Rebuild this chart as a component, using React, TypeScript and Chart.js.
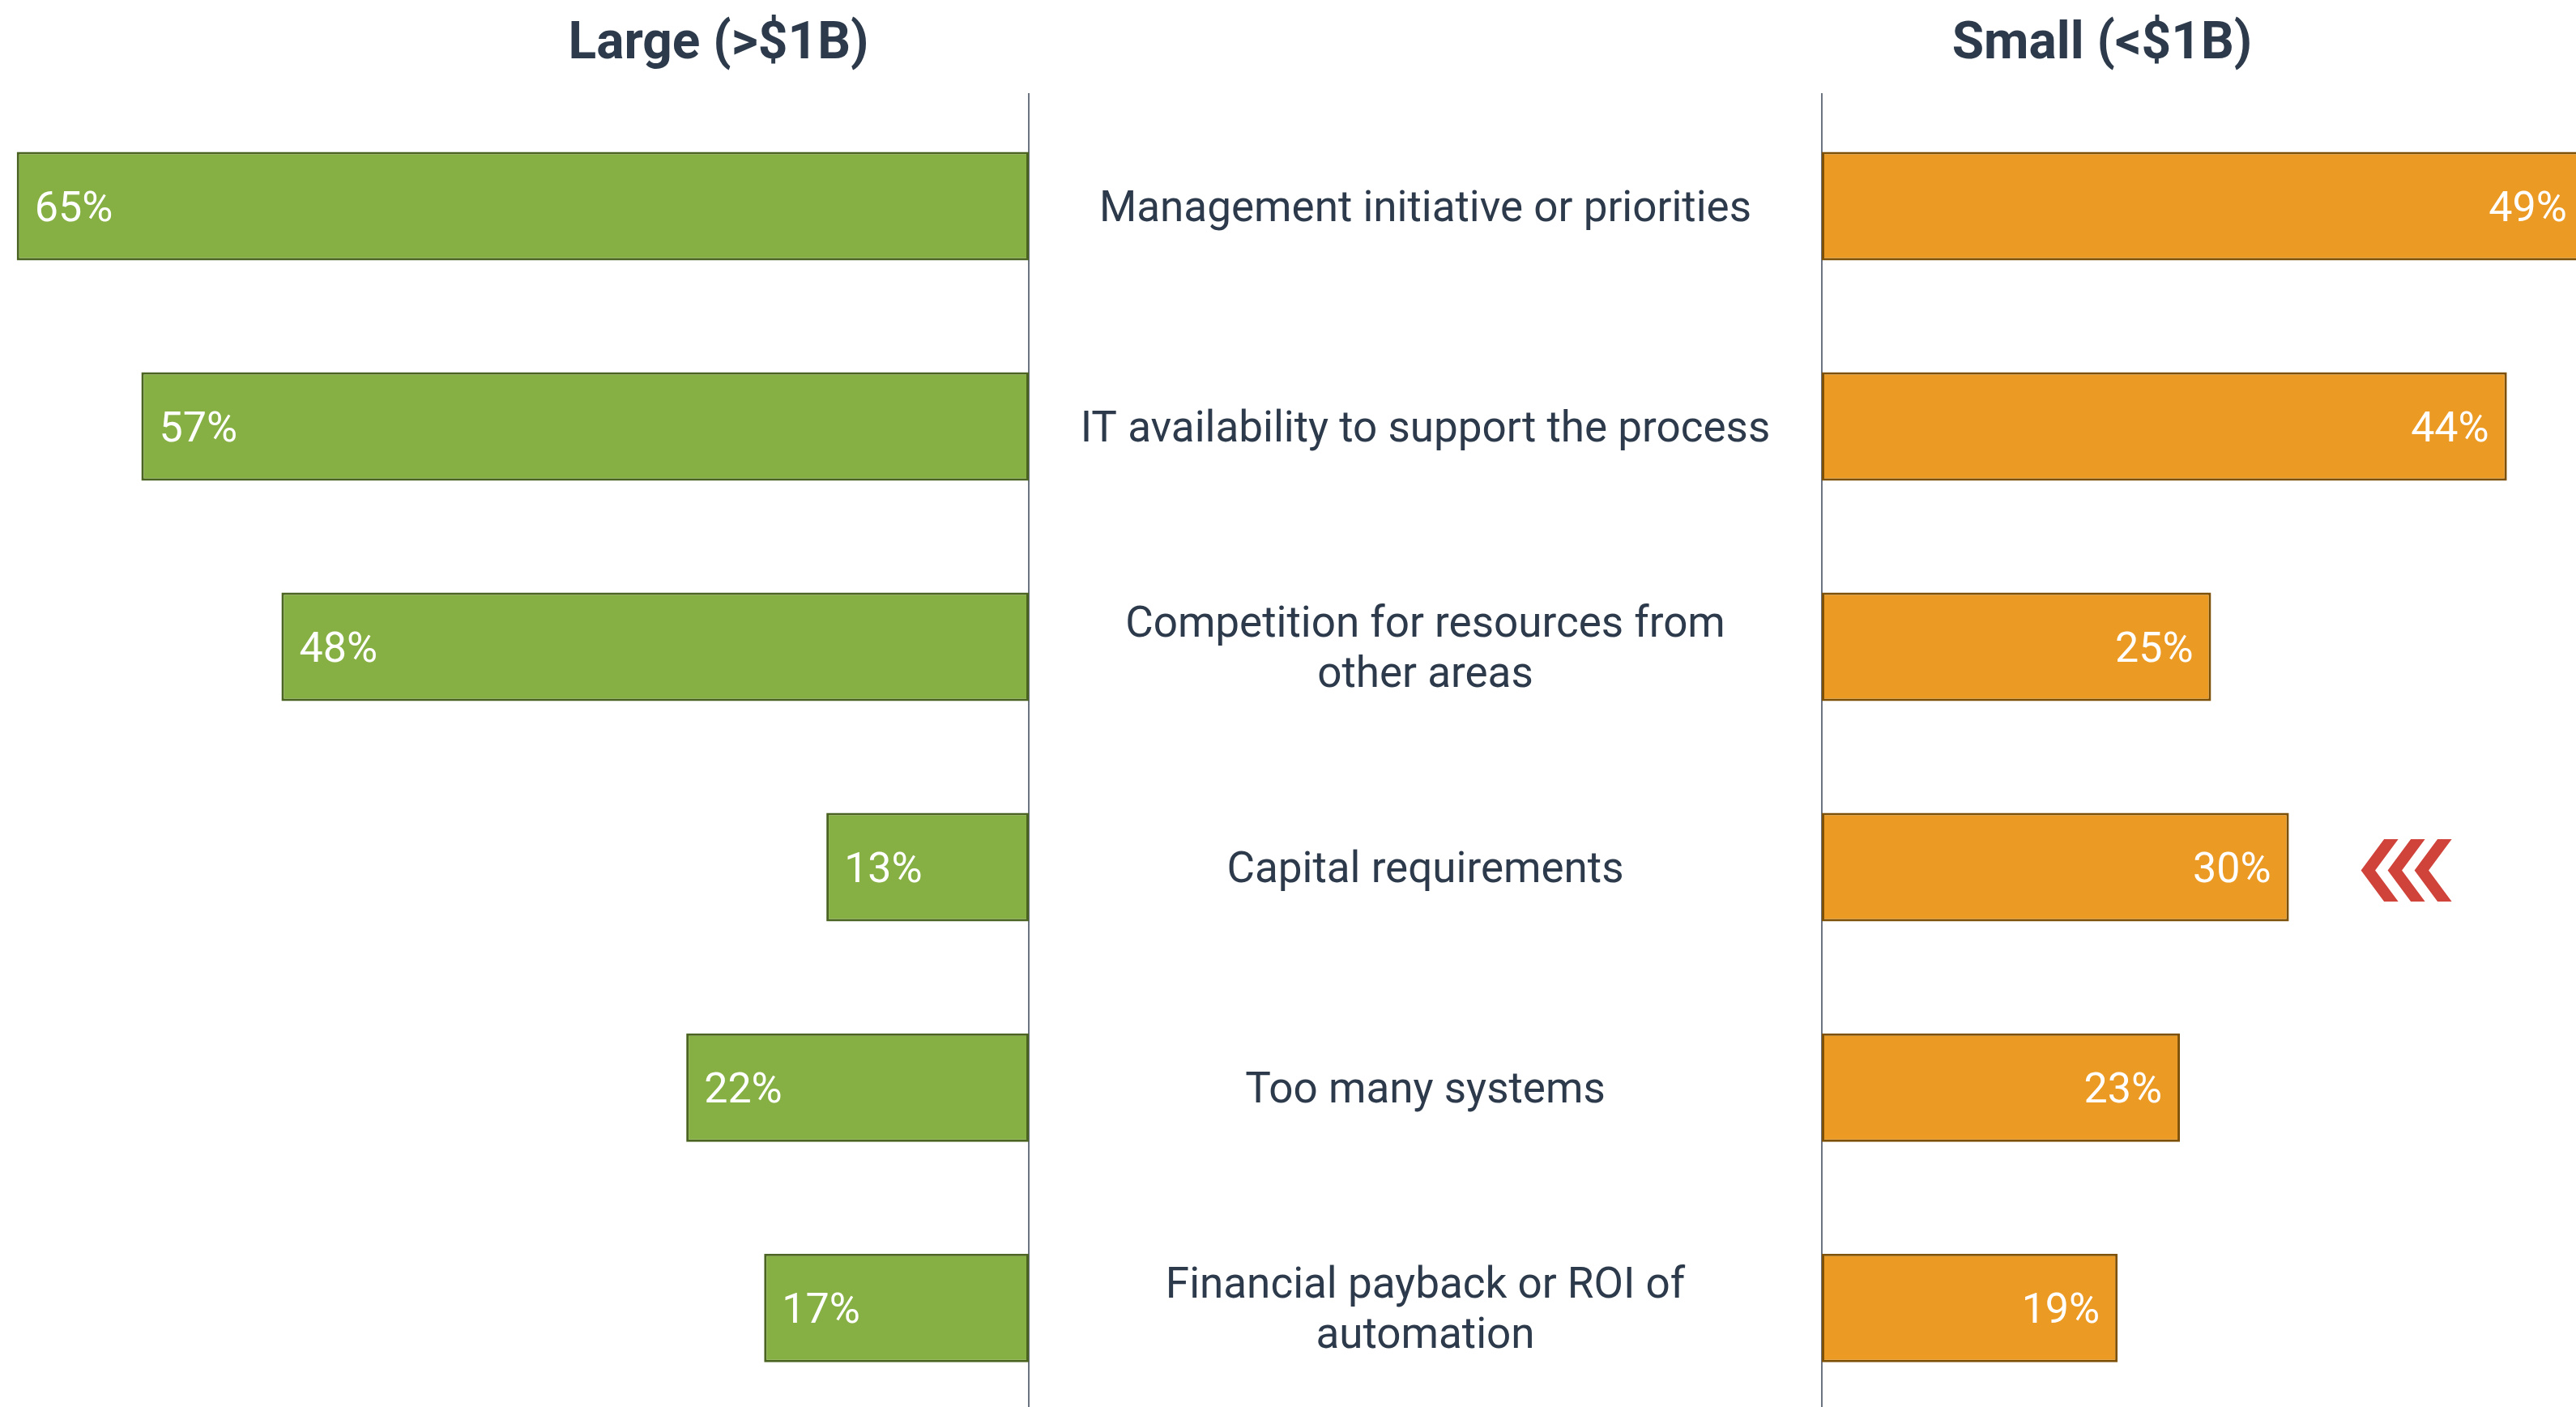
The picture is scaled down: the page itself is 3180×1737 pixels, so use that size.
import React, { useEffect, useRef } from "react";
import { Chart, registerables } from "chart.js";

Chart.register(...registerables);

// ---------- data ----------
const categories: string[][] = [
  ["Management initiative or priorities"],
  ["IT availability to support the process"],
  ["Competition for resources from", "other areas"],
  ["Capital requirements"],
  ["Too many systems"],
  ["Financial payback or ROI of", "automation"],
];
const largeValues: number[] = [65, 57, 48, 13, 22, 17];
const smallValues: number[] = [49, 44, 25, 30, 23, 19];
const largeTitle = "Large (>$1B)";
const smallTitle = "Small (<$1B)";
const highlightIndex = 3; // "Capital requirements" gets the red chevrons

// ---------- styles ----------
const TEXT = "#2c3a4b";
const GREEN = "#86b043";
const GREEN_BORDER = "#4b6321";
const ORANGE = "#eb9a24";
const ORANGE_BORDER = "#7d5008";
const RED = "#d0433a";
const FONT = "Roboto, 'Noto Sans', sans-serif";

const TOP_PAD = 118.5;
const BAND = 272.03;
const CANVAS_H = Math.ceil(TOP_PAD + 6 * BAND);
const LEFT_W = 1272;
const RIGHT_W = 1910;
const GAP = 979; // middle area width (label column)
const LEFT_MAX = 1270 / 19.22;
const RIGHT_MAX = 931 / 19.22;

const labelSize = 53;
const valueSize = 52;
const titleSize = 64;

function fmt(v: number) {
  return `${v}%`;
}

function titlePlugin(text: string, x: number) {
  return {
    id: "sideTitle",
    afterDraw(chart: any) {
      const ctx = chart.ctx;
      ctx.save();
      ctx.font = `bold ${titleSize}px ${FONT}`;
      ctx.fillStyle = TEXT;
      ctx.textAlign = "center";
      ctx.textBaseline = "alphabetic";
      ctx.fillText(text, x, 72);
      ctx.restore();
    },
  };
}

function axisLinePlugin(side: "left" | "right") {
  return {
    id: "axisLine",
    beforeDatasetsDraw(chart: any) {
      const ctx = chart.ctx;
      const x = side === "right" ? chart.chartArea.right : chart.chartArea.left;
      ctx.save();
      ctx.strokeStyle = "#3a4656";
      ctx.lineWidth = 1.5;
      ctx.beginPath();
      ctx.moveTo(x, 115);
      ctx.lineTo(x, chart.height);
      ctx.stroke();
      ctx.restore();
    },
  };
}

function valueLabelPlugin(side: "left" | "right", values: number[]) {
  return {
    id: "valueLabels",
    afterDatasetsDraw(chart: any) {
      const ctx = chart.ctx;
      const meta = chart.getDatasetMeta(0);
      ctx.save();
      ctx.font = `400 ${valueSize}px ${FONT}`;
      ctx.fillStyle = "#ffffff";
      ctx.textBaseline = "alphabetic";
      meta.data.forEach((bar: any, i: number) => {
        const y = bar.y + valueSize * 0.355;
        if (side === "left") {
          ctx.textAlign = "left";
          ctx.fillText(fmt(values[i]), bar.x + 22, y);
        } else {
          ctx.textAlign = "right";
          ctx.fillText(fmt(values[i]), bar.x - 22, y);
        }
      });
      ctx.restore();
    },
  };
}

const categoryLabelPlugin = {
  id: "categoryLabels",
  afterDraw(chart: any) {
    const ctx = chart.ctx;
    const yScale = chart.scales.y;
    const cx = chart.chartArea.left - GAP / 2;
    const lh = 62;
    ctx.save();
    ctx.font = `400 ${labelSize}px ${FONT}`;
    ctx.fillStyle = TEXT;
    ctx.textAlign = "center";
    ctx.textBaseline = "alphabetic";
    categories.forEach((lines, i) => {
      const cy = yScale.getPixelForValue(i);
      lines.forEach((line, k) => {
        const y = cy + (k - (lines.length - 1) / 2) * lh + labelSize * 0.355;
        ctx.fillText(line, cx, y);
      });
    });
    ctx.restore();
  },
};

const chevronPlugin = {
  id: "chevrons",
  afterDatasetsDraw(chart: any) {
    const bar = chart.getDatasetMeta(0).data[highlightIndex];
    if (!bar) return;
    const ctx = chart.ctx;
    const x0 = bar.x + 89;
    const cy = bar.y + 4;
    const w = 46;
    const t = 17.5;
    const h = 77;
    const step = 33;
    ctx.save();
    ctx.fillStyle = RED;
    for (let k = 0; k < 3; k++) {
      const x = x0 + k * step;
      ctx.beginPath();
      ctx.moveTo(x, cy);
      ctx.lineTo(x + w - t, cy - h / 2);
      ctx.lineTo(x + w, cy - h / 2);
      ctx.lineTo(x + t, cy);
      ctx.lineTo(x + w, cy + h / 2);
      ctx.lineTo(x + w - t, cy + h / 2);
      ctx.closePath();
      ctx.fill();
    }
    ctx.restore();
  },
};

const labels = categories.map((c) => c.join(" "));

function baseOptions(reverse: boolean, max: number, padding: any) {
  return {
    indexAxis: "y" as const,
    responsive: false,
    animation: false as const,
    devicePixelRatio: 1,
    layout: { padding },
    plugins: {
      legend: { display: false },
      tooltip: { enabled: false },
      title: { display: false },
    },
    scales: {
      x: {
        type: "linear" as const,
        reverse,
        min: 0,
        max,
        display: false,
      },
      y: {
        type: "category" as const,
        display: false,
      },
    },
  };
}

export default function App() {
  const leftRef = useRef<HTMLCanvasElement>(null);
  const rightRef = useRef<HTMLCanvasElement>(null);

  useEffect(() => {
    const left = new Chart(leftRef.current as HTMLCanvasElement, {
      type: "bar",
      data: {
        labels,
        datasets: [
          {
            data: largeValues,
            backgroundColor: GREEN,
            borderColor: GREEN_BORDER,
            borderWidth: 3,
            borderSkipped: false,
            barPercentage: 1,
            categoryPercentage: 134 / BAND,
          },
        ],
      },
      options: baseOptions(true, LEFT_MAX, {
        top: TOP_PAD,
        right: LEFT_W - 1270,
        left: 0,
        bottom: CANVAS_H - TOP_PAD - 6 * BAND,
      }) as any,
      plugins: [axisLinePlugin("right"), valueLabelPlugin("left", largeValues), titlePlugin(largeTitle, 887)],
    });

    const right = new Chart(rightRef.current as HTMLCanvasElement, {
      type: "bar",
      data: {
        labels,
        datasets: [
          {
            data: smallValues,
            backgroundColor: ORANGE,
            borderColor: ORANGE_BORDER,
            borderWidth: 3,
            borderSkipped: false,
            barPercentage: 1,
            categoryPercentage: 134 / BAND,
          },
        ],
      },
      options: baseOptions(false, RIGHT_MAX, {
        top: TOP_PAD,
        right: 0,
        left: GAP,
        bottom: CANVAS_H - TOP_PAD - 6 * BAND,
      }) as any,
      plugins: [
        axisLinePlugin("left"),
        valueLabelPlugin("right", smallValues),
        categoryLabelPlugin,
        chevronPlugin,
        titlePlugin(smallTitle, 2595 - 1270),
      ],
    });

    return () => {
      left.destroy();
      right.destroy();
    };
  }, []);

  return (
    <div
      style={{
        position: "absolute",
        left: 0,
        top: 0,
        width: 3180,
        height: 1737,
        overflow: "hidden",
        background: "#ffffff",
      }}
    >
      <canvas
        ref={leftRef}
        width={LEFT_W}
        height={CANVAS_H}
        style={{ position: "absolute", left: 0, top: 0, width: LEFT_W, height: CANVAS_H }}
      />
      <canvas
        ref={rightRef}
        width={RIGHT_W}
        height={CANVAS_H}
        style={{ position: "absolute", left: 1270, top: 0, width: RIGHT_W, height: CANVAS_H }}
      />
    </div>
  );
}
